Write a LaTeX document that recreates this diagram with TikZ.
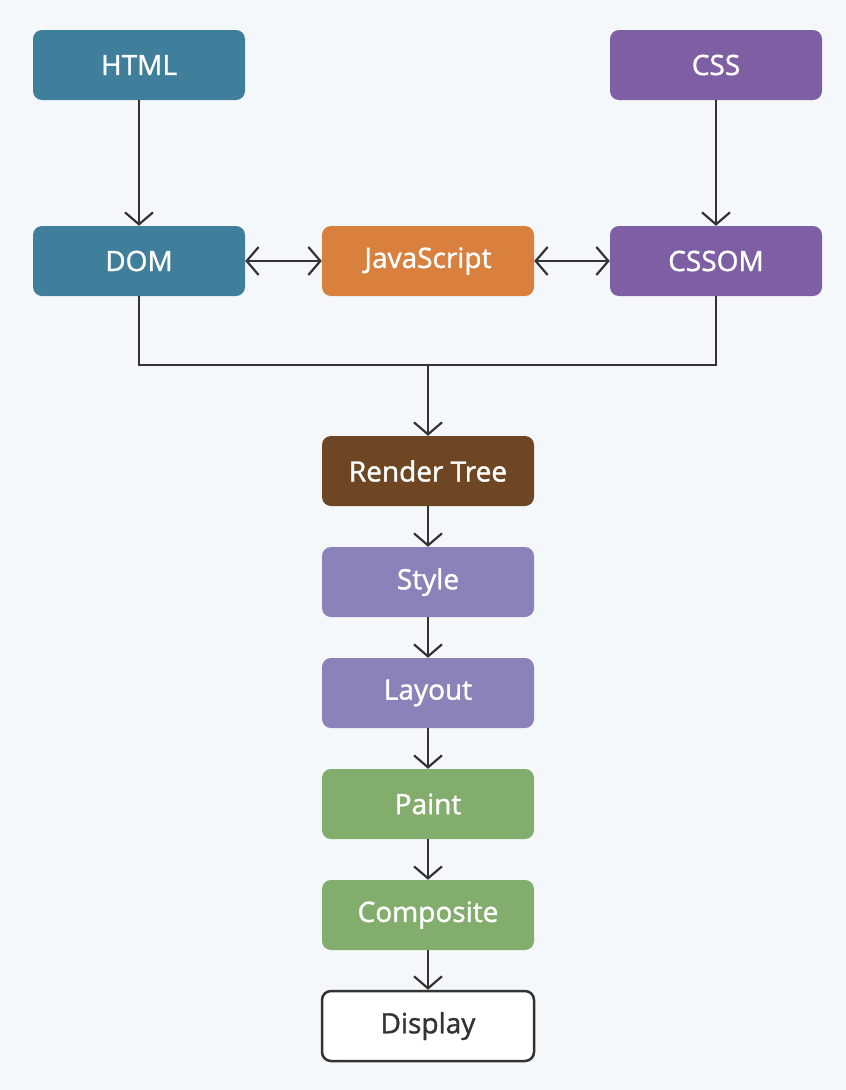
\documentclass[tikz,border=0pt]{standalone}
\usepackage{fontspec}
\setmainfont{Open Sans}
\newfontfamily\boxfont{Open Sans}[FakeBold=1.3]
\usetikzlibrary{arrows.meta}
\definecolor{bg}{HTML}{F5F8FA}
\definecolor{teal}{HTML}{3F7F9C}
\definecolor{purp}{HTML}{7E5FA3}
\definecolor{orng}{HTML}{D9803E}
\definecolor{brwn}{HTML}{6E4623}
\definecolor{lav}{HTML}{8A82B8}
\definecolor{grn}{HTML}{82AD6C}
\definecolor{ln}{HTML}{333333}
\tikzset{
  box/.style={rounded corners=9pt, minimum width=212pt, minimum height=70pt, inner sep=0pt,
    text=white, font=\boxfont\fontsize{28}{32}\selectfont, anchor=center},
  conn/.style={draw=ln, line width=2pt, -{Straight Barb[length=12pt,width=28pt,line width=2.2pt]}},
  biconn/.style={draw=ln, line width=2pt, {Straight Barb[length=12pt,width=28pt,line width=2.2pt]}-{Straight Barb[length=12pt,width=28pt,line width=2.2pt]}},
  plain/.style={draw=ln, line width=2pt}
}
\begin{document}
\begin{tikzpicture}[x=1pt,y=-1pt]
\fill[bg] (0,0) rectangle (846,1090);
\useasboundingbox (0,0) rectangle (846,1090);
\node[box, fill=teal] (html) at (139,65) {HTML};
\node[box, fill=purp] (css) at (716,65) {CSS};
\node[box, fill=teal] (dom) at (139,261) {DOM};
\node[box, fill=orng] (js) at (428,261) {JavaScript};
\node[box, fill=purp] (cssom) at (716,261) {CSSOM};
\node[box, fill=brwn] (rt) at (428,471) {Render Tree};
\node[box, fill=lav] (style) at (428,582) {Style};
\node[box, fill=lav] (layout) at (428,693) {Layout};
\node[box, fill=grn] (paint) at (428,804) {Paint};
\node[box, fill=grn] (comp) at (428,915) {Composite};
\node[box, fill=white, draw=ln, line width=2.5pt, text=ln] (disp) at (428,1026) {Display};
\coordinate (jl) at (428,365);
\draw[conn] (html) -- (dom);
\draw[conn] (css) -- (cssom);
\draw[biconn] (dom) -- (js);
\draw[biconn] (js) -- (cssom);
\draw[plain] (dom.south) |- (jl) -| (cssom.south);
\draw[conn] (jl) -- (rt);
\draw[conn] (rt) -- (style);
\draw[conn] (style) -- (layout);
\draw[conn] (layout) -- (paint);
\draw[conn] (paint) -- (comp);
\draw[conn] (comp) -- (disp);
\end{tikzpicture}
\end{document}
